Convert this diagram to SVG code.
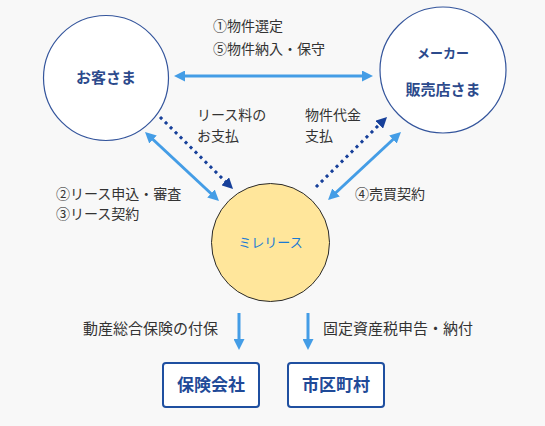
<svg xmlns="http://www.w3.org/2000/svg" width="545" height="426" viewBox="0 0 545 426">
<defs>
<style>
.lbl{font-family:"Noto Sans CJK JP","Noto Sans",sans-serif;font-size:14px;fill:#333}
.lbl15{font-family:"Noto Sans CJK JP","Noto Sans",sans-serif;font-size:15px;fill:#333}
.cname{font-family:"Noto Sans CJK JP",serif;font-size:15px;font-weight:bold;fill:#2c4a8c;text-anchor:middle}
.circ{fill:#fff;stroke:#34559c;stroke-width:1.2}
.box{fill:#fff;stroke:#1f4fa0;stroke-width:2}
.btxt{font-family:"Noto Sans CJK JP",sans-serif;font-size:17px;font-weight:bold;fill:#1f4a98;text-anchor:middle}
.blue{stroke:#449de6;stroke-width:3;fill:none}
.dot{stroke:#17409a;stroke-width:3;stroke-dasharray:3 4;fill:none}
</style>
<marker id="ab" markerUnits="userSpaceOnUse" markerWidth="11" markerHeight="11" viewBox="0 0 10 10" refX="6" refY="5" orient="auto-start-reverse"><path d="M0,0 L10,5 L0,10 z" fill="#449de6"/></marker>
<marker id="ad" markerUnits="userSpaceOnUse" markerWidth="11" markerHeight="11" viewBox="0 0 10 10" refX="6" refY="5" orient="auto"><path d="M0,0 L10,5 L0,10 z" fill="#17409a"/></marker>
</defs>
<rect x="0" y="0" width="545" height="426" fill="#f8f8f8"/>
<g id="connectors">
<line class="blue" x1="178.4" y1="76" x2="368.6" y2="76" marker-start="url(#ab)" marker-end="url(#ab)"/>
<line class="blue" x1="148.2" y1="135" x2="215.8" y2="198" marker-start="url(#ab)" marker-end="url(#ab)"/>
<line class="blue" x1="331.2" y1="197" x2="397.8" y2="135" marker-start="url(#ab)" marker-end="url(#ab)"/>
<line class="dot" x1="160" y1="117" x2="229.9" y2="185.9" marker-end="url(#ad)"/>
<line class="dot" x1="316" y1="187" x2="383.9" y2="120.1" marker-end="url(#ad)"/>
<line class="blue" x1="239" y1="313" x2="239" y2="345.6" marker-end="url(#ab)"/>
<line class="blue" x1="308" y1="313" x2="308" y2="345.6" marker-end="url(#ab)"/>
<text class="lbl" x="213" y="31">①物件選定</text>
<text class="lbl" x="213" y="54">⑤物件納入・保守</text>
<text class="lbl" x="197" y="120">リース料の</text>
<text class="lbl" x="197" y="141">お支払</text>
<text class="lbl" x="305" y="120">物件代金</text>
<text class="lbl" x="305" y="141">支払</text>
<text class="lbl" x="56" y="199">②リース申込・審査</text>
<text class="lbl" x="56" y="219">③リース契約</text>
<text class="lbl" x="355" y="199">④売買契約</text>
<text class="lbl15" x="83" y="334">動産総合保険の付保</text>
<text class="lbl15" x="323" y="334">固定資産税申告・納付</text>
</g>
<g id="customer">
<circle class="circ" cx="106" cy="78" r="62.5"/>
<text class="cname" x="106" y="83">お客さま</text>
</g>
<g id="maker">
<circle class="circ" cx="443" cy="70" r="63"/>
<text class="cname" x="443" y="58" style="font-size:13px">メーカー</text>
<text class="cname" x="443" y="95">販売店さま</text>
</g>
<g id="mirelease">
<circle cx="270.5" cy="242.5" r="59" fill="#ffe69b" stroke="#2a2a2a" stroke-width="1"/>
<text x="270.5" y="247" text-anchor="middle" style="font-family:'Noto Sans CJK JP',sans-serif;font-size:13px;fill:#1a7ad4">ミレリース</text>
</g>
<g id="insurance">
<rect class="box" x="163" y="363" width="96" height="44" rx="3"/>
<text class="btxt" x="211" y="391">保険会社</text>
</g>
<g id="municipality">
<rect class="box" x="288" y="363" width="96" height="44" rx="3"/>
<text class="btxt" x="336" y="391">市区町村</text>
</g>
</svg>
